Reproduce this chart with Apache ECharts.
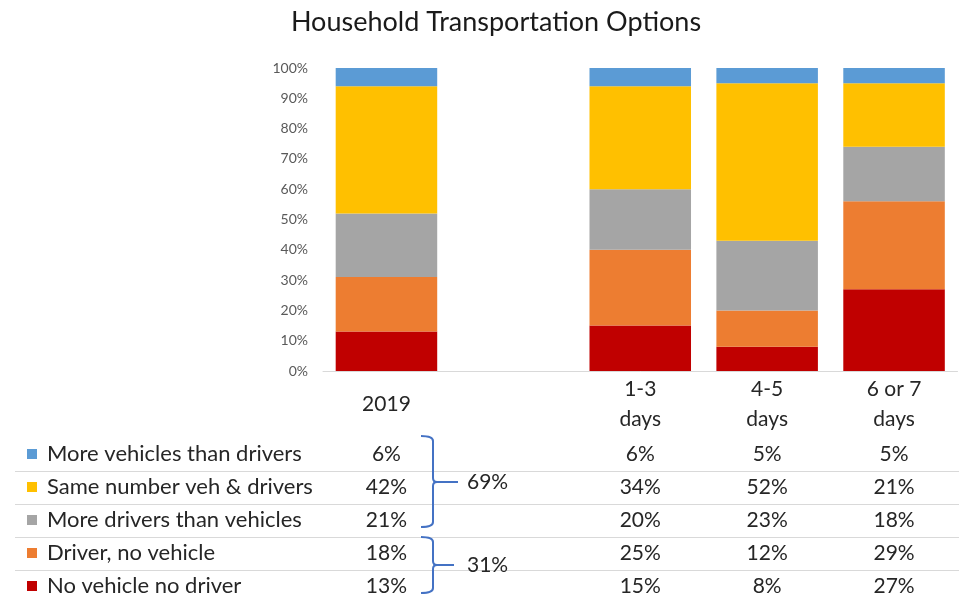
<!DOCTYPE html>
<html>
<head>
<meta charset="utf-8">
<script src="https://cdn.jsdelivr.net/npm/echarts@6/dist/echarts.min.js"></script>
<style>
html,body{margin:0;padding:0;background:#fff;}
#chart{width:959px;height:607px;}
</style>
</head>
<body>
<div id="chart"></div>
<script>
// ---- data ----
const categories = ['2019', '', '1-3\ndays', '4-5\ndays', '6 or 7\ndays'];
const noVehNoDriver = [13, null, 15, 8, 27];
const driverNoVeh   = [18, null, 25, 12, 29];
const moreDrivers   = [21, null, 20, 23, 18];
const sameNumber    = [42, null, 34, 52, 21];
const moreVehicles  = [6, null, 6, 5, 5];
const groupTotals   = [69, 31];
const seriesNames = ['No vehicle no driver', 'Driver, no vehicle', 'More drivers than vehicles', 'Same number veh & drivers', 'More vehicles than drivers'];
const seriesColors = ['#C00000', '#ED7D31', '#A5A5A5', '#FFC000', '#5B9BD5'];
const seriesData = [noVehNoDriver, driverNoVeh, moreDrivers, sameNumber, moreVehicles];
// table row order (top to bottom)
const tableOrder = [4, 3, 2, 1, 0];

const FONT = 'Lato, "Open Sans", sans-serif';
const TXT = '#262626';

const chart = echarts.init(document.getElementById('chart'), null, {renderer: 'canvas'});

const option = {
  animation: false,
  backgroundColor: '#fff',
  title: {
    text: 'Household Transportation Options',
    left: 491, top: 4, textAlign: 'center',
    textStyle: {fontFamily: FONT, fontSize: 27, fontWeight: 'normal', color: '#1a1a1a'}
  },
  grid: {left: 323, right: 1.5, top: 68, bottom: 236, containLabel: false},
  xAxis: {
    type: 'category',
    data: categories,
    axisLine: {lineStyle: {color: '#d9d9d9', width: 1}},
    axisTick: {show: false},
    axisLabel: {interval: 0, margin: 33, verticalAlign: 'middle', fontFamily: FONT, fontSize: 21, lineHeight: 30, color: TXT}
  },
  yAxis: {
    type: 'value', min: 0, max: 100, interval: 10,
    axisLine: {show: false}, axisTick: {show: false},
    splitLine: {show: false},
    axisLabel: {formatter: '{value}%', fontFamily: FONT, fontSize: 14, color: '#595959', margin: 15}
  },
  series: seriesData.map((d, i) => ({
    name: seriesNames[i],
    type: 'bar',
    stack: 'total',
    barCategoryGap: '20%',
    data: d,
    itemStyle: {color: seriesColors[i]}
  }))
};
chart.setOption(option);

// ---- data table, legend keys, braces ----
const graphics = [];
const rowY0 = 454, rowH = 33;
// row separator lines
for (let r = 1; r < tableOrder.length; r++) {
  const y = Math.round(rowY0 + rowH * r - rowH / 2) + 0.5;
  graphics.push({type: 'line', shape: {x1: 15, y1: y, x2: 959, y2: y}, style: {stroke: '#d9d9d9', lineWidth: 1}, z: 1});
}
tableOrder.forEach((si, r) => {
  const y = rowY0 + rowH * r;
  graphics.push({type: 'rect', shape: {x: 27, y: y - 5, width: 10, height: 10}, style: {fill: seriesColors[si]}, z: 5});
  graphics.push({type: 'text', x: 47, y: y, style: {text: seriesNames[si], font: '22px ' + FONT, fill: TXT, textVerticalAlign: 'middle', textAlign: 'left'}, z: 5});
  seriesData[si].forEach((v, ci) => {
    if (v === null) return;
    const x = chart.convertToPixel({xAxisIndex: 0}, ci);
    graphics.push({type: 'text', x: x, y: y, style: {text: v + '%', font: '21px ' + FONT, fill: TXT, textVerticalAlign: 'middle', textAlign: 'center'}, z: 5});
  });
});
// braces
const BRACE = {stroke: '#4472C4', lineWidth: 2, fill: null};
function pushBrace(top, bottom, mid, tipEnd) {
  const L = 421, S = 433, P = 437, R = 5;
  const segs = [
    {type: 'bezierCurve', shape: {x1: L, y1: top, cpx1: S, cpy1: top, x2: S, y2: top + R}},
    {type: 'line', shape: {x1: S, y1: top + R, x2: S, y2: mid - 4}},
    {type: 'bezierCurve', shape: {x1: S, y1: mid - 4, cpx1: S, cpy1: mid, x2: P, y2: mid}},
    {type: 'bezierCurve', shape: {x1: P, y1: mid, cpx1: S, cpy1: mid, x2: S, y2: mid + 4}},
    {type: 'line', shape: {x1: S, y1: mid + 4, x2: S, y2: bottom - R}},
    {type: 'bezierCurve', shape: {x1: S, y1: bottom - R, cpx1: S, cpy1: bottom, x2: L, y2: bottom}},
    {type: 'line', shape: {x1: P, y1: mid, x2: tipEnd, y2: mid}}
  ];
  segs.forEach(s => { s.style = BRACE; s.z = 6; graphics.push(s); });
}
const braceSpans = [[436, 527, 482, 458], [537, 593, 565, 454]];
braceSpans.forEach((b, i) => {
  pushBrace(b[0], b[1], b[2], b[3]);
  graphics.push({type: 'text', x: 467, y: b[2], style: {text: groupTotals[i] + '%', font: '21px ' + FONT, fill: TXT, textVerticalAlign: 'middle', textAlign: 'left'}, z: 6});
});
chart.setOption({graphic: graphics});
</script>
</body>
</html>
